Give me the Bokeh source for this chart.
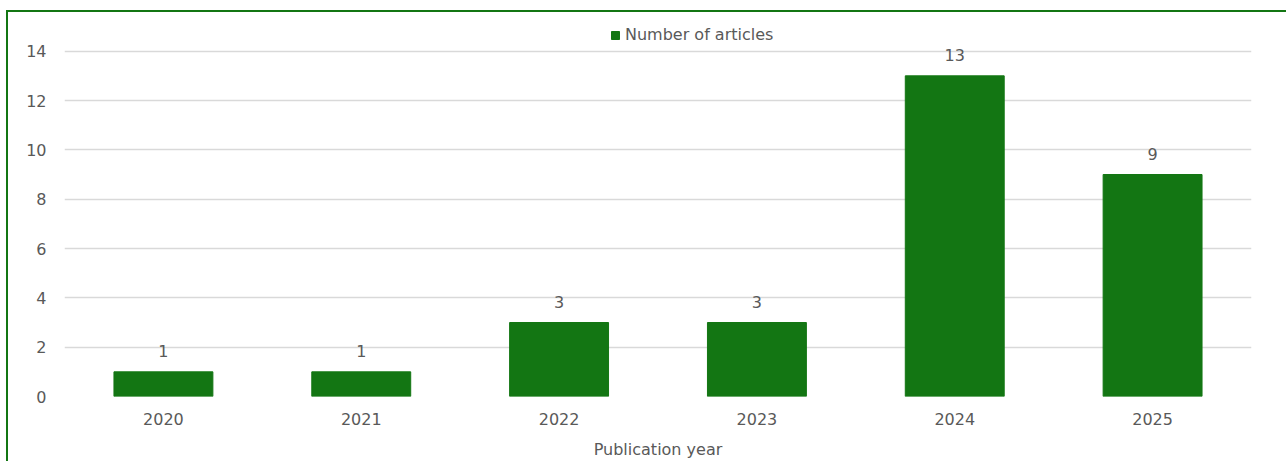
from bokeh.plotting import figure
from bokeh.models import ColumnDataSource, FixedTicker, Legend, LegendItem
from bokeh.core.properties import value
from bokeh.embed import file_html
from bokeh.resources import INLINE

years = ["2020", "2021", "2022", "2023", "2024", "2025"]
articles = [1, 1, 3, 3, 13, 9]
y_ticks = [0, 2, 4, 6, 8, 10, 12, 14]

GREEN = "#137613"
TXT = "#595959"
FONT = "DejaVu Sans"
FS = "16px"

src = ColumnDataSource(dict(year=years, n=articles, lbl=[str(v) for v in articles]))

p = figure(x_range=years, y_range=(0, 15), width=1280, height=451,
           output_backend="svg", toolbar_location=None,
           min_border_left=56, min_border_right=37, min_border_top=14, min_border_bottom=67)
p.styles = {"margin-left": "6px", "margin-top": "10px",
            "border-left": f"2px solid {GREEN}", "border-top": f"2px solid {GREEN}"}
p.outline_line_color = None
p.x_range.range_padding = 0

r = p.vbar(x="year", top="n", width=0.5, source=src, fill_color=GREEN, line_color=GREEN)
p.text(x="year", y="n", text="lbl", source=src, text_align="center", text_baseline="middle",
       y_offset=-21, text_font=value(FONT), text_font_size=FS, text_color=TXT)

p.yaxis.ticker = FixedTicker(ticks=y_ticks)
p.ygrid.ticker = FixedTicker(ticks=y_ticks)
p.ygrid.grid_line_color = "#d9d9d9"
p.ygrid.grid_line_width = 1.5
p.xgrid.grid_line_color = None

for ax in (p.xaxis[0], p.yaxis[0]):
    ax.axis_line_color = None
    ax.major_tick_line_color = None
    ax.minor_tick_line_color = None
    ax.major_tick_out = 0
    ax.major_tick_in = 0
    ax.minor_tick_out = 0
    ax.major_label_text_font = FONT
    ax.major_label_text_font_size = FS
    ax.major_label_text_color = TXT
p.yaxis.major_label_standoff = 18
p.xaxis.major_label_standoff = 16
p.xaxis.axis_label = "Publication year"
p.xaxis.axis_label_text_font = FONT
p.xaxis.axis_label_text_font_size = FS
p.xaxis.axis_label_text_font_style = "normal"
p.xaxis.axis_label_text_color = TXT
p.xaxis.axis_label_standoff = 12

legend = Legend(items=[LegendItem(label="Number of articles", renderers=[r])],
                location=(546, 352), orientation="horizontal",
                glyph_width=10, glyph_height=10, label_height=12, label_standoff=5,
                padding=2, margin=0, border_line_color=None, background_fill_alpha=0,
                label_text_font=FONT, label_text_font_size=FS, label_text_color=TXT)
p.add_layout(legend, "center")

open("out.html", "w").write(file_html(p, INLINE))
